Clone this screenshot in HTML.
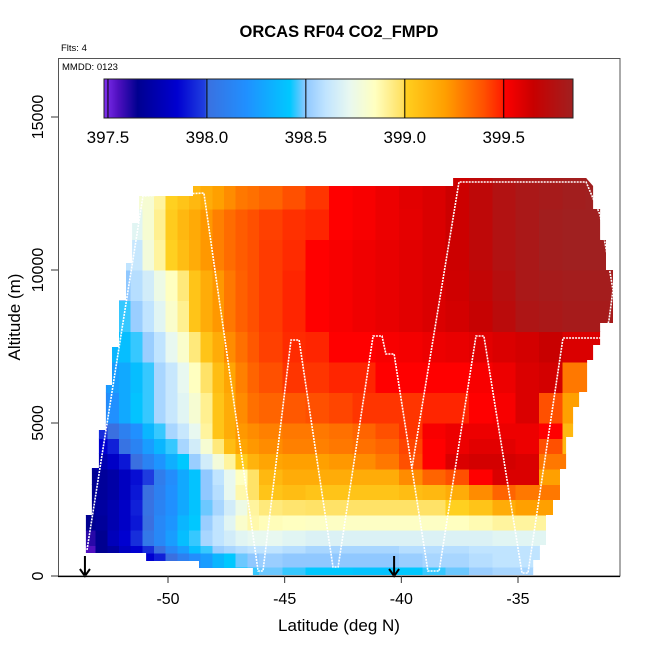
<!DOCTYPE html>
<html><head><meta charset="utf-8"><style>
html,body{margin:0;padding:0;background:#fff;}
svg{display:block;font-family:"Liberation Sans",Arial,sans-serif;}
</style></head><body>
<svg id="chart" width="650" height="650" viewBox="0 0 650 650" xmlns="http://www.w3.org/2000/svg">
<rect width="650" height="650" fill="#fff"/>
<text x="339" y="37" text-anchor="middle" font-size="16.5" font-weight="bold">ORCAS RF04 CO2_FMPD</text>
<text x="61" y="51" font-size="9.5">Flts: 4</text>
<defs><clipPath id="dataClip"><polygon id="clipPoly" points=""/></clipPath></defs>
<g id="cells" clip-path="url(#dataClip)" shape-rendering="crispEdges"></g>
<g id="track"></g>
<g id="arrows"></g>
<rect x="58.5" y="58.5" width="561.5" height="517.5" fill="none" stroke="#555" stroke-width="1"/>
<text x="62" y="70" font-size="9.5">MMDD: 0123</text>
<g id="cbar"></g>
<g id="axes"></g>
<text x="339" y="631" text-anchor="middle" font-size="17">Latitude (deg N)</text>
<text transform="translate(20,317) rotate(-90)" text-anchor="middle" font-size="17">Altitude (m)</text>
</svg>
<script>
// ---- data ----
const latEdges=[-53.6,-53.1,-52.6,-52.1,-51.6,-51.1,-50.6,-50.1,-49.6,-49.1,-48.6,-48.1,-47.6,-47.1,-46.6,-46.1,-45.1,-44.1,-43.1,-42.1,-41.1,-40.1,-39.1,-38.1,-37.1,-36.1,-35.1,-34.1,-33.1,-32.1,-30.9];
const altEdges=[30,300,750,1000,1500,2000,2500,3000,3500,4000,4500,5000,6000,7000,8000,9000,10000,11000,12000,13050];
const co2Row0=[398.0,398.0,398.0,398.0,398.0,398.0,398.05,398.08,398.1,398.15,398.22,398.3,398.38,398.42,398.45,398.48,398.45,398.42,398.42,398.4,398.4,398.42,398.45,398.48,398.52,398.55,398.55,398.55,398.55,398.55];
const co2Row1=[397.6,397.65,397.7,397.75,397.8,397.85,397.92,398.0,398.1,398.18,398.25,398.35,398.42,398.48,398.5,398.52,398.5,398.5,398.5,398.5,398.5,398.52,398.55,398.55,398.58,398.6,398.6,398.6,398.6,398.6];
const co2Row2=[397.55,397.65,397.7,397.8,397.85,397.95,398.0,398.15,398.25,398.38,398.45,398.52,398.55,398.58,398.6,398.6,398.58,398.55,398.55,398.55,398.55,398.58,398.58,398.58,398.6,398.6,398.6,398.6,398.6,398.6];
const co2Row3=[397.6,397.65,397.78,397.85,397.95,398.05,398.15,398.25,398.38,398.45,398.55,398.6,398.65,398.7,398.72,398.72,398.7,398.68,398.68,398.68,398.68,398.68,398.68,398.68,398.68,398.7,398.7,398.7,398.7,398.7];
const co2Row4=[397.65,397.68,397.75,397.82,397.9,398.0,398.15,398.22,398.35,398.42,398.52,398.6,398.7,398.82,398.88,398.86,398.85,398.84,398.84,398.84,398.84,398.84,398.84,398.85,398.87,398.9,398.9,398.9,398.9,398.9];
const co2Row5=[397.65,397.7,397.75,397.82,397.92,398.02,398.12,398.2,398.3,398.4,398.48,398.55,398.65,398.75,398.9,398.95,398.97,398.98,398.98,398.98,398.98,398.98,398.98,399.0,399.05,399.15,399.2,399.2,399.2,399.2];
const co2Row6=[397.65,397.68,397.72,397.8,397.9,398.0,398.1,398.2,398.3,398.4,398.5,398.58,398.72,398.88,398.98,399.05,399.08,399.05,399.05,399.05,399.05,399.08,399.1,399.15,399.25,399.35,399.3,399.3,399.3,399.3];
const co2Row7=[397.65,397.68,397.72,397.8,397.88,397.98,398.08,398.18,398.3,398.4,398.5,398.6,398.72,398.85,398.98,399.1,399.15,399.15,399.15,399.15,399.15,399.25,399.35,399.4,399.5,399.6,399.6,399.2,399.2,399.2];
const co2Row8=[397.7,397.75,397.82,397.9,398.0,398.12,398.22,398.32,398.42,398.52,398.65,398.78,398.9,399.02,399.12,399.18,399.2,399.2,399.22,399.25,399.3,399.4,399.5,399.6,399.62,399.62,399.6,399.3,399.3,399.3];
const co2Row9=[397.8,397.85,397.92,398.02,398.12,398.25,398.35,398.45,398.55,398.65,398.8,398.95,399.08,399.18,399.22,399.25,399.28,399.28,399.3,399.32,399.35,399.42,399.5,399.55,399.58,399.58,399.55,399.4,399.1,399.1];
const co2Row10=[397.9,397.95,398.0,398.1,398.2,398.35,398.45,398.55,398.62,398.72,398.9,399.05,399.15,399.22,399.25,399.28,399.3,399.3,399.32,399.35,399.4,399.45,399.52,399.55,399.55,399.55,399.55,399.5,399.1,399.1];
const co2Row11=[398.1,398.15,398.2,398.3,398.4,398.45,398.55,398.62,398.7,398.8,398.92,399.05,399.15,399.25,399.32,399.35,399.38,399.4,399.42,399.45,399.45,399.45,399.48,399.48,399.5,399.52,399.6,399.4,399.2,399.2];
const co2Row12=[398.2,398.22,398.25,398.3,398.38,398.45,398.55,398.62,398.72,398.85,398.98,399.08,399.18,399.28,399.35,399.4,399.45,399.45,399.48,399.48,399.5,399.5,399.5,399.5,399.52,399.55,399.6,399.62,399.3,399.3];
const co2Row13=[398.35,398.35,398.35,398.38,398.45,398.52,398.6,398.72,398.82,398.95,399.05,399.15,399.25,399.32,399.38,399.43,399.47,399.48,399.5,399.5,399.52,399.53,399.55,399.56,399.58,399.6,399.62,399.65,399.6,399.6];
const co2Row14=[398.45,398.45,398.45,398.45,398.52,398.6,398.7,398.82,398.92,399.05,399.15,399.22,399.3,399.36,399.4,399.44,399.48,399.5,399.52,399.54,399.56,399.58,399.6,399.62,399.66,399.72,399.78,399.8,399.82,399.82];
const co2Row15=[398.5,398.5,398.5,398.5,398.58,398.65,398.75,398.85,398.95,399.05,399.15,399.22,399.3,399.36,399.4,399.44,399.48,399.5,399.52,399.54,399.56,399.58,399.6,399.63,399.68,399.74,399.8,399.82,399.83,399.83];
const co2Row16=[398.6,398.6,398.6,398.6,398.62,398.78,398.9,399.0,399.08,399.15,399.22,399.28,399.33,399.37,399.4,399.44,399.47,399.5,399.52,399.54,399.56,399.58,399.6,399.64,399.7,399.76,399.8,399.84,399.85,399.85];
const co2Row17=[398.7,398.7,398.7,398.7,398.7,398.8,398.92,399.02,399.1,399.16,399.22,399.28,399.33,399.37,399.4,399.43,399.46,399.48,399.5,399.52,399.55,399.57,399.6,399.64,399.7,399.76,399.8,399.84,399.85,399.85];
const co2Row18=[398.8,398.8,398.8,398.8,398.8,398.8,398.9,399.0,399.05,399.1,399.15,399.2,399.25,399.3,399.32,399.35,399.4,399.45,399.5,399.52,399.55,399.58,399.6,399.64,399.7,399.76,399.8,399.82,399.84,399.85];
const co2Rows=[co2Row0,co2Row1,co2Row2,co2Row3,co2Row4,co2Row5,co2Row6,co2Row7,co2Row8,co2Row9,co2Row10,co2Row11,co2Row12,co2Row13,co2Row14,co2Row15,co2Row16,co2Row17,co2Row18];
const outlineLat=[-46.36,-46.36,-48.67,-48.67,-50.94,-50.94,-53.52,-53.52,-53.26,-53.26,-52.96,-52.96,-52.66,-52.66,-52.40,-52.40,-52.10,-52.10,-51.80,-51.80,-51.54,-51.54,-51.24,-51.24,-48.93,-48.93,-37.78,-37.78,-32.08,-31.78,-31.78,-31.48,-31.48,-31.23,-31.23,-30.93,-30.93,-31.48,-31.48,-31.78,-31.78,-32.04,-32.04,-32.38,-32.38,-32.64,-32.64,-32.94,-32.94,-33.2,-33.2,-33.5,-33.5,-33.8,-33.8,-34.06,-34.06,-34.35,-34.35];
const outlineAlt=[33,261,261,490,490,752,752,1993,1993,3529,3529,4771,4771,6242,6242,7484,7484,9020,9020,10229,10229,11536,11536,12418,12418,12745,12745,13007,13007,12745,11993,11993,10980,10980,10000,10000,8268,8268,7549,7549,7059,7059,6013,6013,5523,5523,4542,4542,3497,3497,2484,2484,1993,1993,1013,1013,523,523,33];
const trackLat=[-53.47,-51.07,-48.46,-46.14,-45.93,-44.73,-44.38,-42.93,-42.71,-41.21,-40.83,-40.66,-40.31,-38.86,-38.38,-36.80,-36.46,-34.83,-34.57,-33.07,-31.27,-31.10,-30.93,-31.18,-31.48,-32.08,-37.53,-39.54];
const trackAlt=[850,12418,12516,163,163,7712,7712,294,294,7843,7843,7255,7255,163,163,7843,7843,98,98,7778,7778,8366,9346,10490,11797,12876,12876,3562];
const markerLats=[-53.56,-40.31];
const xTicks=[-50,-45,-40,-35];
const yTicks=[0,5000,10000,15000];
const cbarTicks=[397.5,398.0,398.5,399.0,399.5];
const cbarMin=397.48, cbarMax=399.85;
const stopVals=[397.48,397.55,397.65,397.85,397.99,398.0,398.2,398.42,398.5,398.6,398.72,398.85,398.99,399.0,399.2,399.4,399.49,399.5,399.65,399.85];
const stopCols=['#8030f0','#5010c0','#000090','#0000d0','#2040e0','#3a70e0','#2090ff','#00c8ff','#90c8ff','#c0e4ff','#e8f8f0','#ffffc0','#ffe060','#ffd020','#ffa000','#ff5000','#ff2000','#ff0000','#c80000','#a02020'];

// ---- scales ----
const NS='http://www.w3.org/2000/svg';
function xS(lat){return 168+(lat+50)*23.333;}
function yS(alt){return 576-alt*0.0306;}
function hex(c){return [parseInt(c.substr(1,2),16),parseInt(c.substr(3,2),16),parseInt(c.substr(5,2),16)];}
function colorOf(v){
  if(v<=stopVals[0])return stopCols[0];
  for(let i=1;i<stopVals.length;i++){
    if(v<=stopVals[i]){
      const t=(v-stopVals[i-1])/(stopVals[i]-stopVals[i-1]);
      const a=hex(stopCols[i-1]),b=hex(stopCols[i]);
      return 'rgb('+a.map((x,k)=>Math.round(x+(b[k]-x)*t)).join(',')+')';
    }
  }
  return stopCols[stopCols.length-1];
}
function mk(tag,attrs,parent){const e=document.createElementNS(NS,tag);for(const k in attrs)e.setAttribute(k,attrs[k]);parent.appendChild(e);return e;}

document.getElementById('clipPoly').setAttribute('points',outlineLat.map((l,i)=>xS(l).toFixed(1)+','+yS(outlineAlt[i]).toFixed(1)).join(' '));

const cg=document.getElementById('cells');
for(let r=0;r<co2Rows.length;r++){
  for(let c=0;c<latEdges.length-1;c++){
    const v=co2Rows[r][c];
    if(v==null)continue;
    const x0=xS(latEdges[c]),x1=xS(latEdges[c+1]),y0=yS(altEdges[r+1]),y1=yS(altEdges[r]);
    const e=mk('rect',{x:x0.toFixed(2),y:y0.toFixed(2),width:(x1-x0+0.6).toFixed(2),height:(y1-y0+0.6).toFixed(2),fill:colorOf(v)},cg);
    
    
  }
}

const tg=document.getElementById('track');
const tp=mk('polyline',{points:trackLat.map((l,i)=>xS(l).toFixed(1)+','+yS(trackAlt[i]).toFixed(1)).join(' '),fill:'none',stroke:'#fff','stroke-width':'1.6','stroke-dasharray':'2 1'},tg);



const ag=document.getElementById('arrows');
markerLats.forEach(l=>{
  const x=xS(l);
  const a=mk('path',{d:'M'+x+',556 L'+x+',576 M'+(x-5)+',569 L'+x+',576 L'+(x+5)+',569',stroke:'#000','stroke-width':'2',fill:'none'},ag);
  
  
});

const axg=document.getElementById('axes');
const xl=mk('line',{x1:58,y1:576.5,x2:620,y2:576.5,stroke:'#000','stroke-width':1.3},axg);


xTicks.forEach(t=>{
  const x=xS(t);
  const tk=mk('line',{x1:x,y1:576,x2:x,y2:583,stroke:'#333'},axg);
  
  
  const tx=mk('text',{x:x,y:604,'text-anchor':'middle','font-size':16},axg);
  tx.textContent=String(t);
  
  
});
yTicks.forEach(t=>{
  const y=yS(t);
  const tk=mk('line',{x1:51,y1:y,x2:58,y2:y,stroke:'#333'},axg);
  
  
  const tx=mk('text',{transform:'translate(43,'+y+') rotate(-90)','text-anchor':'middle','font-size':16},axg);
  tx.textContent=String(t);
  
  
});

const cb=document.getElementById('cbar');
const bx0=104,bx1=573,by0=79,by1=118;
function cbX(v){return bx0+(v-cbarMin)/(cbarMax-cbarMin)*(bx1-bx0);}
for(let x=bx0;x<bx1;x++){
  const v=cbarMin+(x+0.5-bx0)/(bx1-bx0)*(cbarMax-cbarMin);
  mk('rect',{x:x,y:by0,width:1.2,height:by1-by0,fill:colorOf(v),'shape-rendering':'crispEdges'},cb);
}
mk('rect',{x:bx0,y:by0,width:bx1-bx0,height:by1-by0,fill:'none',stroke:'#222','stroke-width':1},cb);
cbarTicks.forEach(t=>{
  const x=cbX(t);
  const l=mk('line',{x1:x,y1:by0,x2:x,y2:by1,stroke:'#000','stroke-width':1},cb);
  
  
  const tx=mk('text',{x:x,y:143,'text-anchor':'middle','font-size':17},cb);
  tx.textContent=t.toFixed(1);
  
  
});
</script>
</body></html>
